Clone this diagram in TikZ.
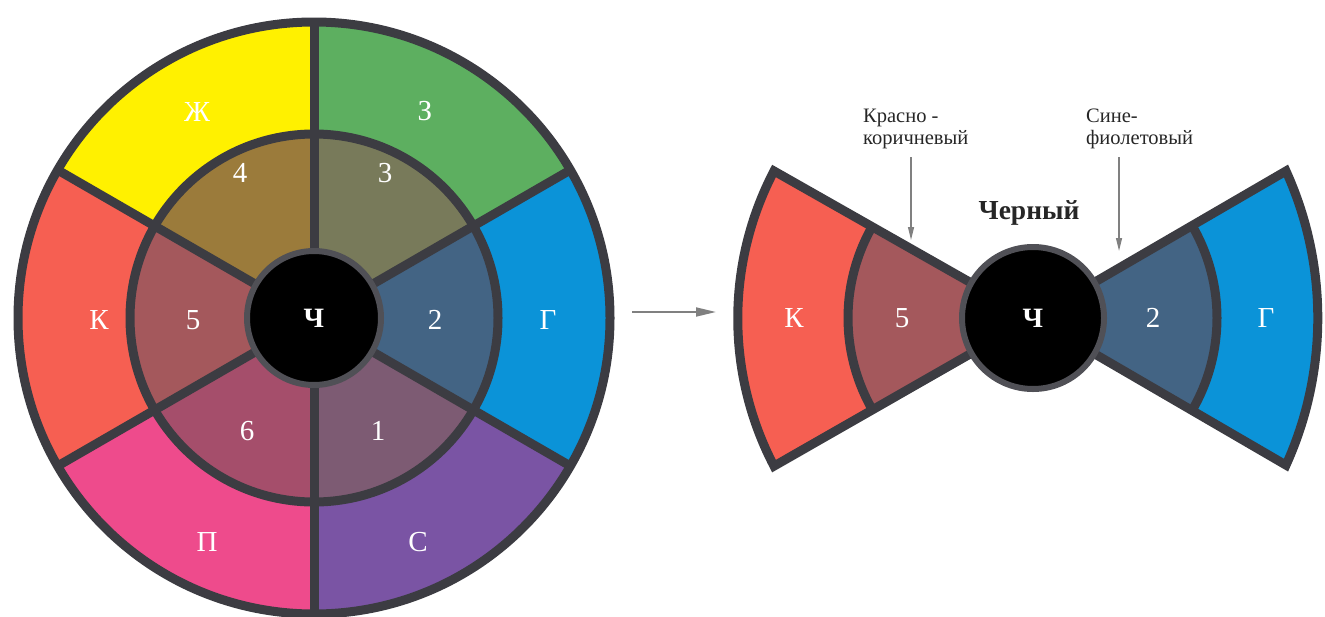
\documentclass[tikz,border=0pt]{standalone}
\usepackage{fontspec}
\setmainfont{Liberation Serif}
\usetikzlibrary{arrows.meta}

% palette of the colour circle
\definecolor{rim}{HTML}{3C3C42}
\definecolor{hubring}{HTML}{505056}
\definecolor{cYel}{HTML}{FFF100}
\definecolor{cGrn}{HTML}{5DAF60}
\definecolor{cBlu}{HTML}{0B93D8}
\definecolor{cVio}{HTML}{7A54A4}
\definecolor{cPnk}{HTML}{EE4B8C}
\definecolor{cRed}{HTML}{F65F52}
\definecolor{mFour}{HTML}{9B7B3B}
\definecolor{mThree}{HTML}{787A5A}
\definecolor{mTwo}{HTML}{436484}
\definecolor{mOne}{HTML}{7D5B73}
\definecolor{mSix}{HTML}{A54E6B}
\definecolor{mFive}{HTML}{A4585C}
\definecolor{pointer}{HTML}{808080}

\begin{document}
\begin{tikzpicture}[x=1pt,y=-1pt,
  rimline/.style={draw=rim,line width=9pt,line join=miter},
  hub/.style={circle,fill=black,draw=hubring,line width=6pt,inner sep=0pt,
              text=white,font=\fontsize{28}{30}\selectfont\bfseries},
  lbl/.style={text=white,inner sep=0pt,font=\fontsize{29}{32}\selectfont},
  note/.style={align=left,inner sep=0pt,text=black!85,
               font=\fontsize{20.5}{22}\selectfont},
  ptr/.style={draw=pointer,line width=1.3pt,-{Triangle[length=13pt,width=6pt]}},
  bigptr/.style={draw=pointer,line width=1.8pt,-{Triangle[length=20pt,width=9pt]}}]
\useasboundingbox (0,0) rectangle (1325,616);

% ---------- full colour circle ----------
\coordinate (W) at (314,318);
\foreach \a/\b/\c in {210/270/cYel,270/330/cGrn,-30/30/cBlu,30/90/cVio,90/150/cPnk,150/210/cRed}
  \fill[\c] (W) -- ++(\a:296) arc[start angle=\a,end angle=\b,radius=296] -- cycle;
\foreach \a/\b/\c in {210/270/mFour,270/330/mThree,-30/30/mTwo,30/90/mOne,90/150/mSix,150/210/mFive}
  \fill[\c] (W) -- ++(\a:184) arc[start angle=\a,end angle=\b,radius=184] -- cycle;
\draw[rimline] (W) circle[radius=296];
\draw[rimline] (W) circle[radius=184];
\foreach \a in {30,90,...,330}
  \draw[rimline] (W) -- ++(\a:296);
\node[hub,minimum size=134pt] (wC) at (W) {Ч};

\node[lbl] (wZh) at (197,112) {Ж};
\node[lbl] (wZe) at (425,111) {З};
\node[lbl] (wG)  at (548,320) {Г};
\node[lbl] (wS)  at (418,542) {С};
\node[lbl] (wP)  at (207,542) {П};
\node[lbl] (wK)  at (99,320)  {К};
\node[lbl] (w4)  at (240,173) {4};
\node[lbl] (w3)  at (385,173) {3};
\node[lbl] (w2)  at (435,320) {2};
\node[lbl] (w1)  at (378,431) {1};
\node[lbl] (w6)  at (247,431) {6};
\node[lbl] (w5)  at (193,320) {5};

% ---------- arrow between the figures ----------
\coordinate (gapL) at (632,312);
\coordinate (gapR) at (716,312);
\draw[bigptr] (gapL) -- (gapR);

% ---------- bow tie: red side, black, blue side ----------
\coordinate (B) at (1033,318);
% outer edges are flatter arcs through the wing corners
\coordinate (lTop) at (774,171);
\coordinate (lBot) at (774,465);
\coordinate (rTop) at (1286,171);
\coordinate (rBot) at (1286,465);
\def\leftwing{(B) -- (lTop) arc[start angle=207.6,end angle=152.4,radius=318.5] -- cycle}
\def\rightwing{(B) -- (rTop) arc[start angle=-24.4,end angle=24.4,radius=356] -- cycle}
\fill[cRed] \leftwing;
\fill[mFive] (B) -- ++(150:185) arc[start angle=150,end angle=210,radius=185] -- cycle;
\fill[cBlu] \rightwing;
\fill[mTwo] (B) -- ++(-30:184) arc[start angle=-30,end angle=30,radius=184] -- cycle;
\draw[rimline] \leftwing;
\draw[rimline] \rightwing;
\draw[rimline] (B) ++(150:185) arc[start angle=150,end angle=210,radius=185];
\draw[rimline] (B) ++(-30:184) arc[start angle=-30,end angle=30,radius=184];
\node[hub,minimum size=142pt] (bC) at (B) {Ч};

\node[lbl] (bK) at (794,318)  {К};
\node[lbl] (b5) at (902,318)  {5};
\node[lbl] (b2) at (1153,318) {2};
\node[lbl] (bG) at (1266,318) {Г};

\node[font=\fontsize{27.5}{30}\selectfont\bfseries,text=black!85,inner sep=0pt]
  (black) at (1029,213) {Черный};

\node[note,anchor=north west] (redbrown) at (863,109) {Красно -\\коричневый};
\node[note,anchor=north west] (blueviolet) at (1086,109) {Сине-\\фиолетовый};
\coordinate (redbrownTip) at (911,240);
\coordinate (bluevioletTip) at (1119,251);
\draw[ptr] (redbrown.south -| redbrownTip) ++(0,8) -- (redbrownTip);
\draw[ptr] (blueviolet.south -| bluevioletTip) ++(0,8) -- (bluevioletTip);
\end{tikzpicture}
\end{document}
